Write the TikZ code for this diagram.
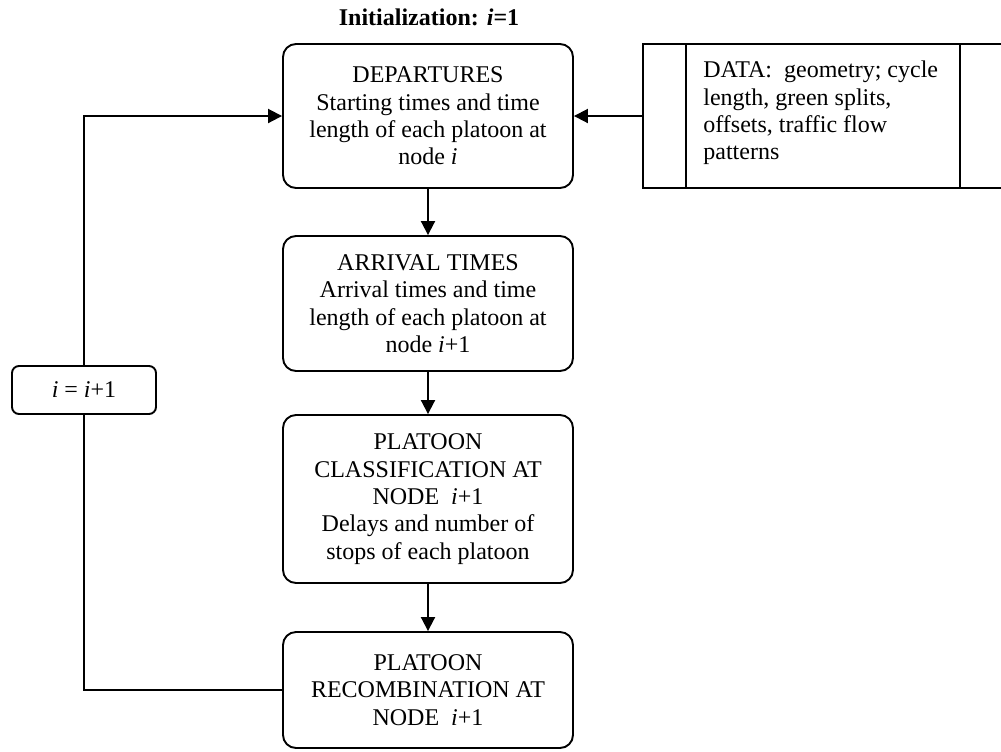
\documentclass[tikz,border=0pt]{standalone}
\usepackage{fontspec}
\setmainfont{Liberation Serif}
\usetikzlibrary{arrows.meta,calc}
\begin{document}
\begin{tikzpicture}[x=0.5pt,y=-0.5pt,
  every node/.style={font=\fontsize{12}{13.7}\selectfont},
  mainbox/.style={draw,line width=0.95pt,rounded corners=6.5pt,minimum width=145pt,align=center,inner sep=0pt},
  smallbox/.style={draw,line width=0.95pt,rounded corners=3.5pt,minimum width=72pt,minimum height=24pt,inner sep=0pt},
  databox/.style={draw,line width=0.95pt,minimum width=185pt,minimum height=72pt,inner sep=0pt},
  conn/.style={line width=0.95pt},
  arr/.style={line width=0.95pt,-{Triangle[length=7pt,width=7pt]}}]
\useasboundingbox (0,0) rectangle (1001,751);
\node[font=\fontsize{12}{13.7}\selectfont\bfseries] (title) at (429,17) {Initialization: \textit{i}=1};
\node[mainbox,minimum height=72pt] (dep) at (428,116) {DEPARTURES\\Starting times and time\\length of each platoon at\\node \textit{i}};
\node[mainbox,minimum height=67.5pt] (arv) at (428,303.5) {ARRIVAL TIMES\\Arrival times and time\\length of each platoon at\\node \textit{i}+1};
\node[mainbox,minimum height=84pt] (cls) at (428,499) {PLATOON\\CLASSIFICATION AT\\NODE\ \ \textit{i}+1\\Delays and number of\\stops of each platoon};
\node[mainbox,minimum height=58pt] (rec) at (428,690) {PLATOON\\RECOMBINATION AT\\NODE\ \ \textit{i}+1};
\node[smallbox] (inc) at (84,390) {\textit{i} = \textit{i}+1};
\node[databox] (data) at (828,116) {};
\draw[conn] ($(data.north west)+(44,0)$) coordinate (d1) -- ($(data.south west)+(44,0)$) coordinate (d2);
\draw[conn] ($(data.north west)+(318,0)$) coordinate (d3) -- ($(data.south west)+(318,0)$) coordinate (d4);
\node[anchor=west,align=left,inner sep=0pt] (datatext) at (703,113) {DATA:\ \ geometry; cycle\\length, green splits,\\offsets, traffic flow\\patterns};
\draw[arr] (data.west) -- (dep.east);
\draw[arr] (dep.south) -- (arv.north);
\draw[arr] (arv.south) -- (cls.north);
\draw[arr] (cls.south) -- (rec.north);
\draw[arr] (inc.north) -- (inc.north |- dep.west) -- (dep.west);
\draw[conn] (inc.south) -- (inc.south |- rec.west) -- (rec.west);
\end{tikzpicture}
\end{document}
